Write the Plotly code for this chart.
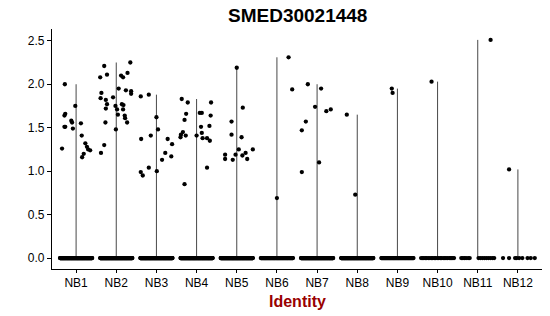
import numpy as np
import plotly.graph_objects as go

# ---- data ----
groups = ["NB1", "NB2", "NB3", "NB4", "NB5", "NB6", "NB7", "NB8", "NB9", "NB10", "NB11", "NB12"]

# non-zero expression values per group
nb1 = [2.00, 1.75, 1.66, 1.64, 1.58, 1.56, 1.55, 1.51, 1.51, 1.49, 1.41, 1.26, 1.32, 1.28, 1.25, 1.24, 1.20, 1.16]
nb2 = [2.21, 2.25, 2.08, 2.11, 2.10, 2.08, 2.13, 1.95, 1.93, 1.92, 1.89, 1.90, 1.84, 1.82, 1.85, 1.77, 1.72,
       1.75, 1.71, 1.77, 1.76, 1.71, 1.65, 1.64, 1.61, 1.56, 1.56, 1.48, 1.30, 1.21]
nb3 = [1.86, 1.88, 1.62, 1.48, 1.41, 1.37, 1.37, 1.31, 1.21, 1.17, 1.13, 1.04, 0.99, 0.95, 1.00]
nb4 = [1.83, 1.79, 1.66, 1.59, 1.45, 1.42, 1.39, 1.41, 1.41, 0.85, 1.67, 1.67, 1.79, 1.64, 1.51, 1.52, 1.44,
       1.38, 1.38, 1.35, 1.04]
nb5 = [2.19, 1.73, 1.57, 1.42, 1.39, 1.25, 1.25, 1.21, 1.19, 1.18, 1.19, 1.14, 1.13, 1.14]
nb6 = [2.31, 1.94, 0.69]
nb7 = [2.00, 1.95, 1.74, 1.69, 1.71, 1.57, 1.47, 1.10, 0.99]
nb8 = [1.65, 0.73]
nb9 = [1.95, 1.90]
nb10 = [2.03]
nb11 = [2.51]
nb12 = [1.02]

# horizontal jitter (category units)
nb1_jit = [-0.28, -0.02, -0.27, -0.29, -0.12, -0.10, 0.12, -0.27, -0.29, -0.08, 0.14, -0.35, 0.23, 0.27, 0.30, 0.35, 0.19, 0.15]
nb2_jit = [-0.30, 0.35, -0.40, -0.23, 0.12, 0.17, 0.28, 0.06, 0.24, 0.37, 0.37, -0.37, -0.39, -0.26, -0.08, -0.23, -0.26,
           -0.02, 0.02, 0.14, 0.18, 0.17, 0.04, 0.21, 0.22, 0.27, -0.27, -0.01, -0.30, -0.38]
nb3_jit = [-0.39, -0.19, 0.00, 0.04, -0.14, -0.38, 0.28, 0.39, 0.22, 0.37, 0.14, -0.19, -0.39, -0.34, 0.01]
nb4_jit = [-0.37, -0.22, -0.26, -0.30, -0.34, -0.39, -0.40, -0.27, 0.00, -0.30, 0.08, 0.13, 0.36, 0.35, 0.11, 0.32, 0.13,
           0.15, 0.26, 0.33, 0.26]
nb5_jit = [0.00, 0.15, -0.13, -0.13, 0.12, 0.05, 0.40, 0.22, -0.03, 0.14, -0.29, -0.29, -0.10, 0.26]
nb6_jit = [0.29, 0.38, 0.00]
nb7_jit = [-0.23, 0.10, -0.05, 0.23, 0.34, -0.28, -0.38, 0.05, -0.38]
nb8_jit = [-0.26, -0.05]
nb9_jit = [-0.14, -0.12]
nb10_jit = [-0.15]
nb11_jit = [0.32]
nb12_jit = [-0.22]

# number of cells with zero expression per group
zero_counts = [160, 160, 160, 160, 160, 90, 140, 140, 70, 24, 15, 9]
nb10_zero_jit = [-0.41, -0.37, -0.34, -0.30, -0.27, -0.23, -0.19, -0.15, -0.12, -0.08, -0.05, -0.01,
                 0.03, 0.07, 0.10, 0.14, 0.18, 0.21, 0.25, 0.29, 0.32, 0.35, 0.38, 0.41]
nb11_zero_jit = [-0.41, -0.37, -0.33, -0.29, -0.24, -0.20, 0.02, 0.07, 0.12, 0.17, 0.22, 0.27, 0.32, 0.37, 0.41]
nb12_zero_jit = [-0.37, -0.22, -0.07, -0.03, 0.03, 0.11, 0.24, 0.32, 0.42]

values = [nb1, nb2, nb3, nb4, nb5, nb6, nb7, nb8, nb9, nb10, nb11, nb12]
jitters = [nb1_jit, nb2_jit, nb3_jit, nb4_jit, nb5_jit, nb6_jit, nb7_jit, nb8_jit, nb9_jit, nb10_jit, nb11_jit, nb12_jit]
special_zero = {9: nb10_zero_jit, 10: nb11_zero_jit, 11: nb12_zero_jit}

fig = go.Figure()

# violins (degenerate to thin lines: zero to max)
for i, vals in enumerate(values):
    pos = i + 1
    fig.add_trace(go.Scatter(x=[pos, pos], y=[0, max(vals)], mode="lines",
                             line=dict(color="rgba(40,40,40,0.85)", width=1),
                             hoverinfo="skip", showlegend=False))

# points
xs, ys = [], []
for i, (vals, jit) in enumerate(zip(values, jitters)):
    pos = i + 1
    if i in special_zero:
        zj = special_zero[i]
    else:
        zj = list(np.linspace(-0.4, 0.4, zero_counts[i]))
    xs += [pos + j for j in zj]
    ys += [0.0] * len(zj)
    xs += [pos + j for j in jit]
    ys += vals

fig.add_trace(go.Scatter(x=xs, y=ys, mode="markers",
                         marker=dict(color="black", size=4.3, line=dict(width=0)),
                         hoverinfo="skip", showlegend=False))

font_family = "Liberation Sans, Arial, Helvetica, sans-serif"

fig.update_layout(
    width=550, height=316,
    margin=dict(l=52, r=8, t=29, b=47),
    paper_bgcolor="white", plot_bgcolor="white",
    font=dict(family=font_family, size=12, color="black"),
    showlegend=False,
    xaxis=dict(range=[0.4, 12.6], tickvals=list(range(1, len(groups) + 1)), ticktext=groups,
               showgrid=False, zeroline=False, showline=True, linecolor="black", linewidth=1.1,
               ticks="outside", ticklen=3, tickcolor="black", tickwidth=1.1,
               tickfont=dict(size=12, color="black")),
    yaxis=dict(range=[-0.1255, 2.6355], tickvals=[0, 0.5, 1.0, 1.5, 2.0, 2.5],
               ticktext=["0.0", "0.5", "1.0", "1.5", "2.0", "2.5"],
               showgrid=False, zeroline=False, showline=True, linecolor="black", linewidth=1.1,
               ticks="outside", ticklen=4, tickcolor="black", tickwidth=1.1,
               tickfont=dict(size=12, color="black")),
    annotations=[
        dict(text="<b>SMED30021448</b>", x=0.5, xref="paper", y=1.05, yref="paper",
             showarrow=False, font=dict(size=19, color="black", family=font_family),
             yanchor="middle", xanchor="center"),
        dict(text="<b>Identity</b>", x=0.5, xref="paper", y=-0.09, yref="paper",
             showarrow=False, font=dict(size=16, color="#990000", family=font_family),
             yanchor="top", xanchor="center"),
    ],
)
plot_h = 316 - 29 - 47
fig.layout.annotations[0].y = 1 + (29 - 16) / plot_h
fig.layout.annotations[1].y = -(291 - 269) / plot_h

fig.write_html("out.html")
